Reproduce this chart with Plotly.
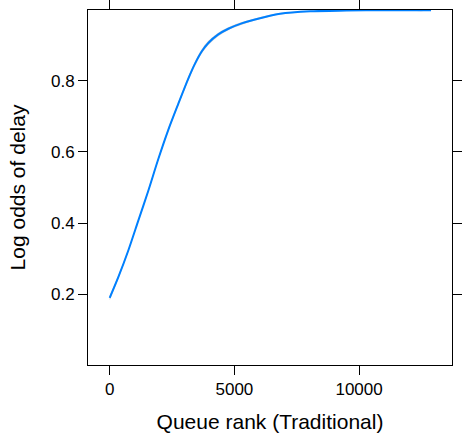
import plotly.graph_objects as go

queue_rank = [0, 345, 746, 1147, 1548, 1949, 2350, 2750, 3152, 3421, 3689, 3954,
              4355, 4756, 5293, 5827, 6829, 8032, 9500, 11000, 12884]
log_odds = [0.190, 0.248, 0.323, 0.407, 0.491, 0.580, 0.662, 0.735, 0.806, 0.848,
            0.882, 0.906, 0.930, 0.946, 0.961, 0.972, 0.988, 0.995, 0.997, 0.998, 0.998]
band_half = [0.007, 0.005, 0.004, 0.004, 0.004, 0.004, 0.005, 0.005, 0.006, 0.006,
             0.006, 0.006, 0.005, 0.004, 0.004, 0.003, 0.002, 0.001, 0.001, 0.001, 0.001]
x_ticks = [0, 5000, 10000]
y_ticks = [0.2, 0.4, 0.6, 0.8]

upper = [v + h for v, h in zip(log_odds, band_half)]
lower = [v - h for v, h in zip(log_odds, band_half)]

fig = go.Figure()
fig.add_trace(go.Scatter(x=queue_rank + queue_rank[::-1], y=upper + lower[::-1],
                         fill="toself", fillcolor="rgba(160,160,160,0.55)",
                         line=dict(width=0, shape="spline", smoothing=0.8), mode="lines",
                         hoverinfo="skip", showlegend=False))
fig.add_trace(go.Scatter(x=queue_rank, y=log_odds, mode="lines",
                         line=dict(color="#0080ff", width=2, shape="spline", smoothing=0.8),
                         showlegend=False))

font_family = "Liberation Sans, Arial, sans-serif"
axis_common = dict(showline=True, linecolor="black", linewidth=1, mirror="allticks",
                   ticks="outside", ticklen=9, tickcolor="black", tickwidth=1,
                   showgrid=False, zeroline=False, automargin=False,
                   tickfont=dict(family=font_family, size=17, color="black"))

fig.update_layout(
    width=464, height=439,
    margin=dict(l=88, r=12, t=10, b=74),
    paper_bgcolor="white", plot_bgcolor="white",
    font=dict(family=font_family, color="black"),
    xaxis=dict(range=[-870, 13725], tickvals=x_ticks, ticktext=[str(t) for t in x_ticks],
               title=dict(text="Queue rank (Traditional)", font=dict(size=21), standoff=15),
               **axis_common),
    yaxis=dict(range=[0.0014, 0.9986], tickvals=y_ticks, ticktext=["0.2", "0.4", "0.6", "0.8"],
               title=dict(text="Log odds of delay", font=dict(size=21), standoff=19),
               **axis_common),
)

fig.write_html("out.html", config={"displayModeBar": False},
               post_script="document.body.style.margin='0';document.body.style.overflow='hidden';")
